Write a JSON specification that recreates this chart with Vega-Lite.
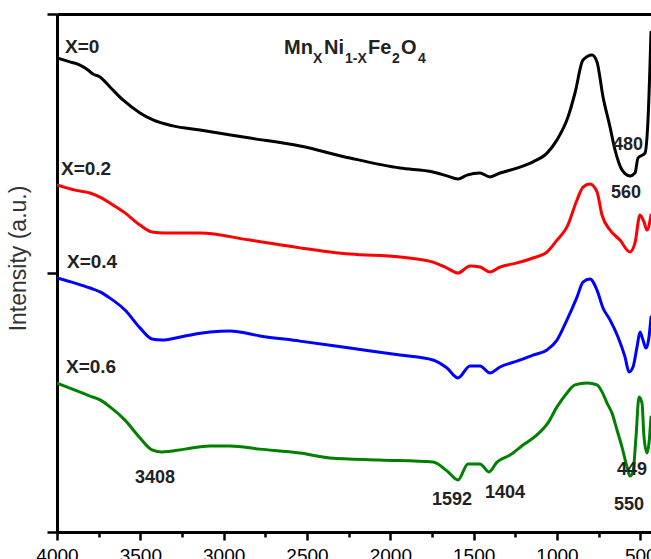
{
"$schema": "https://vega.github.io/schema/vega-lite/v6.json",
"width": 594, "height": 518,
"autosize": {"type": "none"},
"padding": {"left": 57, "top": 14, "right": 0, "bottom": 27},
"config": {"view": {"stroke": null}, "font": "Liberation Sans"},
"datasets": {
"spectra": [
{"s":"X=0","wn":4000,"i":1.830},{"s":"X=0","wn":3922,"i":1.815},{"s":"X=0","wn":3862,"i":1.803},{"s":"X=0","wn":3814,"i":1.784},{"s":"X=0","wn":3784,"i":1.768},{"s":"X=0","wn":3742,"i":1.757},{"s":"X=0","wn":3682,"i":1.718},{"s":"X=0","wn":3604,"i":1.668},{"s":"X=0","wn":3502,"i":1.618},{"s":"X=0","wn":3424,"i":1.591},{"s":"X=0","wn":3304,"i":1.568},{"s":"X=0","wn":3142,"i":1.552},{"s":"X=0","wn":2842,"i":1.521},{"s":"X=0","wn":2542,"i":1.490},{"s":"X=0","wn":2242,"i":1.444},{"s":"X=0","wn":1942,"i":1.405},{"s":"X=0","wn":1744,"i":1.390},{"s":"X=0","wn":1660,"i":1.375},{"s":"X=0","wn":1594,"i":1.363},{"s":"X=0","wn":1540,"i":1.378},{"s":"X=0","wn":1462,"i":1.386},{"s":"X=0","wn":1402,"i":1.371},{"s":"X=0","wn":1342,"i":1.386},{"s":"X=0","wn":1240,"i":1.405},{"s":"X=0","wn":1144,"i":1.429},{"s":"X=0","wn":1060,"i":1.463},{"s":"X=0","wn":1000,"i":1.514},{"s":"X=0","wn":934,"i":1.602},{"s":"X=0","wn":892,"i":1.695},{"s":"X=0","wn":844,"i":1.822},{"s":"X=0","wn":790,"i":1.842},{"s":"X=0","wn":760,"i":1.815},{"s":"X=0","wn":724,"i":1.680},{"s":"X=0","wn":682,"i":1.564},{"s":"X=0","wn":652,"i":1.475},{"s":"X=0","wn":610,"i":1.398},{"s":"X=0","wn":562,"i":1.375},{"s":"X=0","wn":532,"i":1.386},{"s":"X=0","wn":514,"i":1.444},{"s":"X=0","wn":472,"i":1.463},{"s":"X=0","wn":454,"i":1.591},{"s":"X=0","wn":436,"i":1.930},
{"s":"X=0.2","wn":4000,"i":1.340},{"s":"X=0.2","wn":3892,"i":1.320},{"s":"X=0.2","wn":3802,"i":1.309},{"s":"X=0.2","wn":3742,"i":1.293},{"s":"X=0.2","wn":3682,"i":1.270},{"s":"X=0.2","wn":3592,"i":1.232},{"s":"X=0.2","wn":3502,"i":1.185},{"s":"X=0.2","wn":3430,"i":1.158},{"s":"X=0.2","wn":3352,"i":1.154},{"s":"X=0.2","wn":3142,"i":1.154},{"s":"X=0.2","wn":2842,"i":1.127},{"s":"X=0.2","wn":2542,"i":1.097},{"s":"X=0.2","wn":2242,"i":1.073},{"s":"X=0.2","wn":1942,"i":1.062},{"s":"X=0.2","wn":1744,"i":1.042},{"s":"X=0.2","wn":1660,"i":1.019},{"s":"X=0.2","wn":1594,"i":1.000},{"s":"X=0.2","wn":1522,"i":1.027},{"s":"X=0.2","wn":1462,"i":1.023},{"s":"X=0.2","wn":1402,"i":1.004},{"s":"X=0.2","wn":1342,"i":1.023},{"s":"X=0.2","wn":1240,"i":1.039},{"s":"X=0.2","wn":1144,"i":1.058},{"s":"X=0.2","wn":1060,"i":1.081},{"s":"X=0.2","wn":1000,"i":1.127},{"s":"X=0.2","wn":940,"i":1.178},{"s":"X=0.2","wn":880,"i":1.282},{"s":"X=0.2","wn":844,"i":1.332},{"s":"X=0.2","wn":802,"i":1.344},{"s":"X=0.2","wn":760,"i":1.313},{"s":"X=0.2","wn":730,"i":1.224},{"s":"X=0.2","wn":682,"i":1.166},{"s":"X=0.2","wn":622,"i":1.127},{"s":"X=0.2","wn":562,"i":1.081},{"s":"X=0.2","wn":532,"i":1.116},{"s":"X=0.2","wn":502,"i":1.224},{"s":"X=0.2","wn":478,"i":1.197},{"s":"X=0.2","wn":460,"i":1.166},{"s":"X=0.2","wn":436,"i":1.224},
{"s":"X=0.4","wn":4000,"i":0.981},{"s":"X=0.4","wn":3892,"i":0.961},{"s":"X=0.4","wn":3802,"i":0.942},{"s":"X=0.4","wn":3742,"i":0.927},{"s":"X=0.4","wn":3682,"i":0.903},{"s":"X=0.4","wn":3592,"i":0.857},{"s":"X=0.4","wn":3502,"i":0.788},{"s":"X=0.4","wn":3430,"i":0.745},{"s":"X=0.4","wn":3370,"i":0.741},{"s":"X=0.4","wn":3232,"i":0.757},{"s":"X=0.4","wn":3082,"i":0.772},{"s":"X=0.4","wn":2962,"i":0.776},{"s":"X=0.4","wn":2782,"i":0.757},{"s":"X=0.4","wn":2542,"i":0.737},{"s":"X=0.4","wn":2242,"i":0.710},{"s":"X=0.4","wn":1942,"i":0.683},{"s":"X=0.4","wn":1744,"i":0.664},{"s":"X=0.4","wn":1660,"i":0.633},{"s":"X=0.4","wn":1594,"i":0.595},{"s":"X=0.4","wn":1522,"i":0.641},{"s":"X=0.4","wn":1462,"i":0.641},{"s":"X=0.4","wn":1402,"i":0.614},{"s":"X=0.4","wn":1342,"i":0.637},{"s":"X=0.4","wn":1240,"i":0.660},{"s":"X=0.4","wn":1144,"i":0.683},{"s":"X=0.4","wn":1060,"i":0.703},{"s":"X=0.4","wn":1000,"i":0.741},{"s":"X=0.4","wn":940,"i":0.819},{"s":"X=0.4","wn":880,"i":0.907},{"s":"X=0.4","wn":844,"i":0.965},{"s":"X=0.4","wn":802,"i":0.977},{"s":"X=0.4","wn":760,"i":0.934},{"s":"X=0.4","wn":724,"i":0.865},{"s":"X=0.4","wn":682,"i":0.819},{"s":"X=0.4","wn":634,"i":0.753},{"s":"X=0.4","wn":592,"i":0.676},{"s":"X=0.4","wn":568,"i":0.618},{"s":"X=0.4","wn":544,"i":0.637},{"s":"X=0.4","wn":520,"i":0.714},{"s":"X=0.4","wn":502,"i":0.772},{"s":"X=0.4","wn":484,"i":0.741},{"s":"X=0.4","wn":466,"i":0.710},{"s":"X=0.4","wn":448,"i":0.753},{"s":"X=0.4","wn":436,"i":0.830},
{"s":"X=0.6","wn":4000,"i":0.575},{"s":"X=0.6","wn":3892,"i":0.548},{"s":"X=0.6","wn":3802,"i":0.525},{"s":"X=0.6","wn":3742,"i":0.510},{"s":"X=0.6","wn":3682,"i":0.483},{"s":"X=0.6","wn":3592,"i":0.432},{"s":"X=0.6","wn":3502,"i":0.363},{"s":"X=0.6","wn":3430,"i":0.317},{"s":"X=0.6","wn":3370,"i":0.309},{"s":"X=0.6","wn":3232,"i":0.320},{"s":"X=0.6","wn":3082,"i":0.332},{"s":"X=0.6","wn":2962,"i":0.332},{"s":"X=0.6","wn":2782,"i":0.320},{"s":"X=0.6","wn":2542,"i":0.305},{"s":"X=0.6","wn":2362,"i":0.286},{"s":"X=0.6","wn":2062,"i":0.278},{"s":"X=0.6","wn":1744,"i":0.270},{"s":"X=0.6","wn":1660,"i":0.236},{"s":"X=0.6","wn":1594,"i":0.201},{"s":"X=0.6","wn":1534,"i":0.263},{"s":"X=0.6","wn":1462,"i":0.263},{"s":"X=0.6","wn":1408,"i":0.232},{"s":"X=0.6","wn":1360,"i":0.270},{"s":"X=0.6","wn":1282,"i":0.297},{"s":"X=0.6","wn":1204,"i":0.336},{"s":"X=0.6","wn":1120,"i":0.375},{"s":"X=0.6","wn":1054,"i":0.421},{"s":"X=0.6","wn":1000,"i":0.483},{"s":"X=0.6","wn":940,"i":0.537},{"s":"X=0.6","wn":892,"i":0.568},{"s":"X=0.6","wn":820,"i":0.575},{"s":"X=0.6","wn":760,"i":0.568},{"s":"X=0.6","wn":730,"i":0.541},{"s":"X=0.6","wn":700,"i":0.498},{"s":"X=0.6","wn":670,"i":0.459},{"s":"X=0.6","wn":640,"i":0.394},{"s":"X=0.6","wn":610,"i":0.328},{"s":"X=0.6","wn":580,"i":0.251},{"s":"X=0.6","wn":562,"i":0.216},{"s":"X=0.6","wn":544,"i":0.232},{"s":"X=0.6","wn":526,"i":0.367},{"s":"X=0.6","wn":508,"i":0.521},{"s":"X=0.6","wn":490,"i":0.498},{"s":"X=0.6","wn":478,"i":0.367},{"s":"X=0.6","wn":460,"i":0.305},{"s":"X=0.6","wn":448,"i":0.344},{"s":"X=0.6","wn":436,"i":0.444}
],
"serieslabels": [
{"t":"X=0","wn":3952,"i":1.849},
{"t":"X=0.2","wn":3976,"i":1.378},
{"t":"X=0.4","wn":3940,"i":1.019},
{"t":"X=0.6","wn":3946,"i":0.614}
],
"peaks": [
{"t":"480","wn":574,"i":1.475},
{"t":"560","wn":586,"i":1.290},
{"t":"3408","wn":3412,"i":0.189},
{"t":"1592","wn":1630,"i":0.104},
{"t":"1404","wn":1312,"i":0.131},
{"t":"449","wn":550,"i":0.220},
{"t":"550","wn":568,"i":0.085}
],
"titlebig": [
{"t":"Mn","wn":2638,"i":1.846},
{"t":"Ni","wn":2398,"i":1.846},
{"t":"Fe","wn":2134,"i":1.846},
{"t":"O","wn":1936,"i":1.846}
],
"titlesub": [
{"t":"X","wn":2464,"i":1.810},
{"t":"1-X","wn":2272,"i":1.810},
{"t":"2","wn":1990,"i":1.810},
{"t":"4","wn":1834,"i":1.810}
]
},
"resolve": {"axis": {"x": "independent", "y": "independent"}},
"layer": [
{
"data": {"name": "spectra"},
"mark": {"type": "line", "strokeWidth": 3, "clip": true, "interpolate": "monotone", "strokeJoin": "round", "strokeCap": "round"},
"encoding": {
"x": {"field": "wn", "type": "quantitative",
"scale": {"domain": [436, 4000], "reverse": true, "nice": false, "zero": false},
"axis": {"orient": "bottom", "title": null, "grid": false,
"values": [4000,3750,3500,3250,3000,2750,2500,2250,2000,1750,1500,1250,1000,750,500],
"labelExpr": "datum.value % 500 === 0 ? datum.label : ''",
"format": "d",
"tickSize": {"condition": {"test": "datum.value % 500 === 0", "value": 8}, "value": 5},
"tickWidth": 2.5, "tickColor": "#000", "domainWidth": 3, "domainColor": "#000",
"labelFontSize": 19, "labelColor": "#000", "labelPadding": 6, "labelFlush": false, "labelOverlap": false}},
"y": {"field": "i", "type": "quantitative",
"scale": {"domain": [0, 2], "nice": false, "zero": false},
"axis": {"orient": "left", "values": [0, 1, 2], "labels": false, "grid": false,
"tickSize": 10, "tickWidth": 2.5, "tickColor": "#000", "domainWidth": 3, "domainColor": "#000",
"title": "Intensity (a.u.)", "titleFontSize": 23, "titleFontWeight": "normal", "titleColor": "#333",
"titleX": -27, "titleY": 244, "titleAlign": "center", "titleBaseline": "bottom", "titleAngle": -90}},
"color": {"field": "s", "type": "nominal",
"scale": {"domain": ["X=0","X=0.2","X=0.4","X=0.6"], "range": ["#000000","#ff0000","#0000ff","#008000"]},
"legend": null}
}
},
{
"data": {"name": "serieslabels"},
"mark": {"type": "text", "align": "left", "baseline": "alphabetic", "fontSize": 19, "fontWeight": "bold", "color": "#222"},
"encoding": {
"x": {"field": "wn", "type": "quantitative", "axis": null},
"y": {"field": "i", "type": "quantitative", "axis": null},
"text": {"field": "t"}
}
},
{
"data": {"name": "peaks"},
"mark": {"type": "text", "align": "center", "baseline": "alphabetic", "fontSize": 18, "fontWeight": "bold", "color": "#222"},
"encoding": {
"x": {"field": "wn", "type": "quantitative", "axis": null},
"y": {"field": "i", "type": "quantitative", "axis": null},
"text": {"field": "t"}
}
},
{
"data": {"name": "titlebig"},
"mark": {"type": "text", "align": "left", "baseline": "alphabetic", "fontSize": 20, "fontWeight": "bold", "color": "#222"},
"encoding": {
"x": {"field": "wn", "type": "quantitative",
"axis": {"orient": "top", "labels": false, "ticks": false, "grid": false, "title": null, "domainWidth": 3, "domainColor": "#000"}},
"y": {"field": "i", "type": "quantitative", "axis": null},
"text": {"field": "t"}
}
},
{
"data": {"name": "titlesub"},
"mark": {"type": "text", "align": "left", "baseline": "alphabetic", "fontSize": 14, "fontWeight": "bold", "color": "#222"},
"encoding": {
"x": {"field": "wn", "type": "quantitative", "axis": null},
"y": {"field": "i", "type": "quantitative", "axis": null},
"text": {"field": "t"}
}
}
]
}
